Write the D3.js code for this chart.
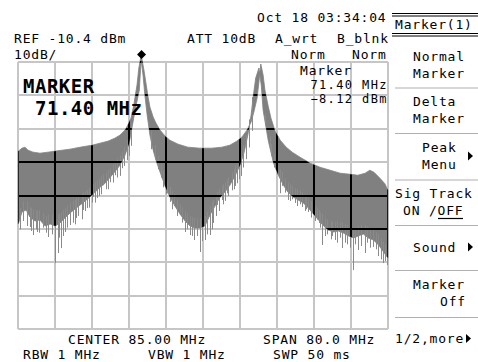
<!DOCTYPE html>
<html><head><meta charset="utf-8">
<script src="https://cdn.jsdelivr.net/npm/d3@7"></script>
<style>
html,body{margin:0;padding:0;background:#fff;}
svg{display:block;}
text{font-family:"DejaVu Sans Mono",monospace;font-size:13px;fill:#000;letter-spacing:0.8px;}
.big{font-size:19px;font-weight:bold;letter-spacing:0.5px;}
.tight{font-size:12px;letter-spacing:1.4px;}
</style></head>
<body>
<script>
// ---- data (MHz, dBm) ----
const freqTicks = [45, 53, 61, 69, 77, 85, 93, 101, 109, 117, 125];
const levelTicks = [-10.4, -20.4, -30.4, -40.4, -50.4, -60.4, -70.4, -80.4, -90.4];

const upperFreq = [45.0,45.8,46.45,47.1,48.2,49.7,51.4,52.9,54.5,56.2,58.4,61.0,62.7,64.4,65.9,67.0,68.1,68.7,69.4,70.0,70.7,71.1,71.6,72.2,72.7,73.1,73.5,74.2,74.8,75.7,76.8,77.8,79.6,81.7,84.3,86.9,89.1,90.8,92.3,93.4,94.5,95.4,96.0,96.7,97.1,97.5,98.0,98.4,99.1,99.7,100.6,101.7,103.0,104.3,106.0,108.2,110.3,112.5,114.7,116.8,118.5,120.1,121.1,122.0,123.3,124.4,125.0];
const upperLevel = [-37.1,-36.2,-35.9,-36.8,-37.4,-37.7,-37.4,-37.1,-36.8,-36.5,-35.9,-35.3,-34.7,-34.1,-33.2,-32.3,-30.8,-29.3,-27.2,-23.3,-17.3,-12.2,-8.3,-12.8,-17.3,-20.9,-23.9,-26.9,-28.7,-30.8,-32.6,-33.8,-35.0,-35.9,-36.2,-36.2,-35.9,-35.3,-34.1,-32.9,-30.8,-28.4,-25.4,-21.2,-16.4,-11.0,-14.3,-18.8,-23.6,-27.2,-31.1,-33.8,-35.9,-37.4,-38.9,-40.7,-41.9,-42.8,-43.7,-44.0,-44.3,-43.7,-42.8,-43.4,-45.2,-46.9,-48.8];

const lowerFreq = [45.0,45.8,46.7,47.5,48.6,49.7,50.8,51.9,53.0,54.0,55.1,56.2,57.3,58.4,59.5,60.5,61.6,62.7,63.8,64.9,66.0,67.0,68.1,69.0,69.6,70.3,71.2,71.6,72.0,72.4,72.9,73.5,74.2,74.8,75.7,76.8,77.8,78.9,80.0,81.1,82.2,83.2,84.3,85.4,86.5,87.6,88.6,89.7,90.8,91.9,93.0,93.9,94.7,95.4,95.9,96.4,97.1,97.6,98.0,99.1,100.2,101.3,102.4,103.4,104.5,105.6,106.7,107.8,108.9,110.0,111.1,112.1,113.2,114.3,115.4,116.5,117.6,118.6,119.7,120.8,121.9,123.0,124.1,125.0];
const lowerLevel = [-58.9,-55.3,-54.7,-56.8,-58.0,-57.7,-59.5,-58.9,-59.5,-58.6,-57.1,-55.6,-54.4,-53.2,-52.0,-50.8,-49.4,-47.9,-46.7,-44.9,-43.1,-41.3,-38.3,-34.7,-30.2,-24.8,-18.8,-9.6,-14.3,-20.3,-26.3,-32.3,-36.8,-39.8,-43.4,-47.6,-50.8,-53.5,-55.9,-58.0,-59.5,-60.1,-60.1,-59.5,-56.2,-53.5,-51.1,-49.4,-47.3,-44.6,-41.3,-37.4,-32.3,-26.3,-20.3,-15.2,-12.2,-17.3,-24.8,-33.8,-40.4,-44.3,-47.3,-49.4,-50.8,-51.7,-52.6,-54.1,-55.9,-57.7,-59.5,-60.7,-61.3,-61.0,-61.6,-62.5,-63.1,-62.5,-61.9,-63.1,-63.7,-65.2,-67.3,-69.1];

// deep noise spikes
const spikeFreq = [47.5,48.2,49.0,51.5,52.9,53.5,54.2,55.1,56.2,57.6,59.1,59.8,61.2,62.0,63.4,64.9,65.9,67.5,68.5,76.4,77.8,80.0,81.1,82.2,83.1,84.3,85.4,86.4,87.2,88.1,89.0,90.1,91.2,92.3,101.7,103.5,104.9,106.4,107.8,110.0,110.7,113.6,115.0,117.5,118.6,120.0,121.9,124.0,124.8];
const spikeLevel = [-59.8,-62.2,-61.3,-62.8,-70.6,-67.6,-66.1,-61.3,-59.2,-57.1,-54.7,-54.1,-50.8,-51.1,-47.3,-46.4,-44.3,-42.2,-39.8,-47.9,-52.3,-55.6,-61.3,-62.2,-63.7,-67.3,-63.7,-62.2,-58.6,-53.2,-51.7,-49.7,-48.8,-46.7,-49.7,-51.7,-52.6,-53.8,-55.3,-58.6,-65.2,-63.7,-66.1,-72.7,-66.7,-67.6,-65.8,-70.6,-71.2];
// short noise spikes along the lower edge
const rippleFreq = [45.4,46.1,46.9,47.8,48.9,49.4,50.3,51.1,52.2,53.9,54.7,55.6,56.8,57.2,58.0,58.7,59.4,60.3,60.9,61.6,62.4,63.0,63.9,64.4,65.4,66.4,67.0,67.9,68.9,69.4,
  73.8,74.5,75.2,75.9,76.9,77.3,78.3,78.7,79.3,80.5,81.6,82.7,83.6,84.8,85.8,86.9,87.7,88.5,89.4,89.8,90.5,91.6,92.0,92.7,93.3,93.7,94.2,94.9,95.6,
  98.5,99.4,99.8,100.4,101.0,102.0,102.8,103.9,104.2,105.3,105.9,107.0,107.3,108.4,109.3,109.6,110.4,111.5,111.9,112.6,113.0,114.0,114.6,115.7,116.1,116.9,118.0,119.2,120.4,121.2,122.4,122.8,123.6,124.4];
const rippleLevel = [-60.5,-58.0,-59.5,-61.0,-60.5,-61.5,-60.0,-61.5,-62.0,-63.0,-62.5,-60.0,-58.5,-59.0,-56.5,-57.5,-55.0,-54.0,-52.5,-52.5,-50.5,-50.0,-48.5,-48.5,-46.5,-45.0,-44.5,-41.5,-38.5,-35.5,
  -36.5,-39.5,-42.5,-45.0,-50.0,-49.5,-54.5,-53.5,-56.5,-58.5,-60.5,-62.5,-62.5,-64.0,-62.0,-60.5,-56.5,-55.0,-53.0,-52.0,-50.5,-48.5,-47.5,-45.5,-44.5,-42.0,-39.5,-36.0,-31.0,
  -27.5,-34.0,-37.5,-42.0,-44.0,-47.5,-49.5,-52.0,-51.5,-53.5,-53.0,-55.0,-54.5,-57.0,-58.0,-57.5,-60.0,-62.5,-62.0,-63.5,-62.5,-64.5,-63.0,-64.5,-65.0,-66.0,-65.0,-65.5,-64.5,-66.0,-66.5,-68.5,-69.5,-70.0];

const markerFreq = 71.40, markerLevel = -8.12;

const headerLeft = ["REF -10.4 dBm", "ATT 10dB", "A_wrt", "B_blnk"];
const footerLabels = ["CENTER 85.00 MHz", "SPAN 80.0 MHz", "RBW 1 MHz", "VBW 1 MHz", "SWP 50 ms"];
const menuLabels = [["Normal","Marker"],["Delta","Marker"],["Peak","Menu"],["Sig Track","ON /OFF"],["Sound"],["Marker","Off"]];

// ---- drawing ----
const W = 478, H = 362;
const svg = d3.select("body").append("svg").attr("width", W).attr("height", H);
svg.append("rect").attr("width", W).attr("height", H).attr("fill", "#fff");

const x = d3.scaleLinear().domain([45, 125]).range([18.3, 387.8]);
const y = d3.scaleLinear().domain([-90.4, -10.4]).range([329.2, 62]);

const upperPts = upperFreq.map((f, i) => [f, upperLevel[i]]);
const lowerPts = lowerFreq.map((f, i) => [f, lowerLevel[i]]).reverse();
const line = d3.line().x(d => x(d[0])).y(d => y(d[1]));
const tracePath = line(upperPts.concat(lowerPts)) + "Z";

function lowerAt(f) {
  const i = d3.bisectLeft(lowerFreq, f);
  if (i <= 0) return lowerLevel[0];
  if (i >= lowerFreq.length) return lowerLevel[lowerLevel.length - 1];
  const t = (f - lowerFreq[i - 1]) / (lowerFreq[i] - lowerFreq[i - 1]);
  return lowerLevel[i - 1] + t * (lowerLevel[i] - lowerLevel[i - 1]);
}
const spikes = spikeFreq.map((f, i) => ({f, top: lowerAt(f) + 3, bot: spikeLevel[i]}))
  .concat(rippleFreq.map((f, i) => ({f, top: lowerAt(f) + 3, bot: Math.min(rippleLevel[i], lowerAt(f) - 0.5)})));

function drawGrid(g, color, w) {
  freqTicks.forEach(f => {
    const px = Math.round(x(f));
    g.append("line").attr("x1", px).attr("x2", px).attr("y1", Math.round(y(-10.4))).attr("y2", Math.round(y(-90.4)))
      .attr("stroke", color).attr("stroke-width", w);
  });
  levelTicks.forEach(l => {
    const py = Math.round(y(l));
    g.append("line").attr("x1", Math.round(x(45))).attr("x2", Math.round(x(125))).attr("y1", py).attr("y2", py)
      .attr("stroke", color).attr("stroke-width", w);
  });
}

const defs = svg.append("defs");
const mask = defs.append("mask").attr("id", "tm").attr("maskUnits", "userSpaceOnUse")
  .attr("x", 0).attr("y", 0).attr("width", W).attr("height", H);
mask.append("rect").attr("width", W).attr("height", H).attr("fill", "#000");
mask.append("path").attr("d", tracePath).attr("fill", "#fff");

drawGrid(svg.append("g"), "#c6c6c6", 2);

const tg = svg.append("g");
tg.append("path").attr("d", tracePath).attr("fill", "#808080").attr("stroke", "#808080").attr("stroke-width", 0.8);
tg.selectAll("line").data(spikes).enter().append("line")
  .attr("x1", d => Math.round(x(d.f)) + 0.5).attr("x2", d => Math.round(x(d.f)) + 0.5)
  .attr("y1", d => y(d.top)).attr("y2", d => y(d.bot)).attr("stroke", "#8a8a8a").attr("stroke-width", 1);

drawGrid(svg.append("g").attr("mask", "url(#tm)"), "#000", 2);

const mx = x(markerFreq) + 1.3, my = y(markerLevel);
svg.append("path").attr("d", `M${mx},${my - 4.5}L${mx + 4.5},${my}L${mx},${my + 4.5}L${mx - 4.5},${my}Z`).attr("fill", "#000");

const T = (s, tx, ty, cls, anchor) => svg.append("text").attr("x", tx).attr("y", ty).attr("class", cls || null)
  .attr("text-anchor", anchor || "start").text(s);
T("Oct 18 03:34:04", 257, 22);
T(headerLeft[0], 14, 43);
T(headerLeft[1], 187, 43);
T(headerLeft[2], 275, 43);
T(headerLeft[3], 337, 43);
T("10dB/", 14, 59);
T("Norm", 291, 59);
T("Norm", 352, 59);
T("Marker", 300, 75);
T(d3.format(".2f")(markerFreq) + " MHz", 388, 88.5, "tight", "end");
T(d3.format(".2f")(markerLevel) + " dBm", 388, 102.5, "tight", "end");
T("MARKER", 23, 93, "big");
T(d3.format(".2f")(markerFreq) + " MHz", 35, 115, "big");

T(footerLabels[0], 68, 344);
T(footerLabels[1], 263, 344);
T(footerLabels[2], 23, 359);
T(footerLabels[3], 148, 359);
T(footerLabels[4], 273, 359);

const hdr = svg.append("g");
[13.5, 16, 33.5, 36].forEach(v => hdr.append("line").attr("x1", 392).attr("x2", 478).attr("y1", v).attr("y2", v)
  .attr("stroke", "#000").attr("stroke-width", 1.2));
T("Marker(1)", 395, 29);
[88, 133.5, 180, 225.5, 270.5, 317.5].forEach(v => svg.append("line").attr("x1", 395).attr("x2", 478)
  .attr("y1", v).attr("y2", v).attr("stroke", "#b0b0b0").attr("stroke-width", 1.2));
T(menuLabels[0][0], 413, 61); T(menuLabels[0][1], 413, 78);
T(menuLabels[1][0], 413, 106); T(menuLabels[1][1], 413, 123);
T(menuLabels[2][0], 422, 152); T(menuLabels[2][1], 422, 169);
T(menuLabels[3][0], 395, 198); T(menuLabels[3][1], 403, 215);
svg.append("line").attr("x1", 438).attr("x2", 463).attr("y1", 218.5).attr("y2", 218.5).attr("stroke", "#000").attr("stroke-width", 1.2);
T(menuLabels[4][0], 413, 252);
T(menuLabels[5][0], 413, 289); T(menuLabels[5][1], 440, 306);
T("1/2,more", 395, 343);
const tri = (cx, cy) => svg.append("path").attr("d", `M${cx},${cy - 4.5}L${cx + 5},${cy}L${cx},${cy + 4.5}Z`).attr("fill", "#000");
tri(468, 156); tri(468, 247); tri(466, 338.5);
</script>
</body></html>
